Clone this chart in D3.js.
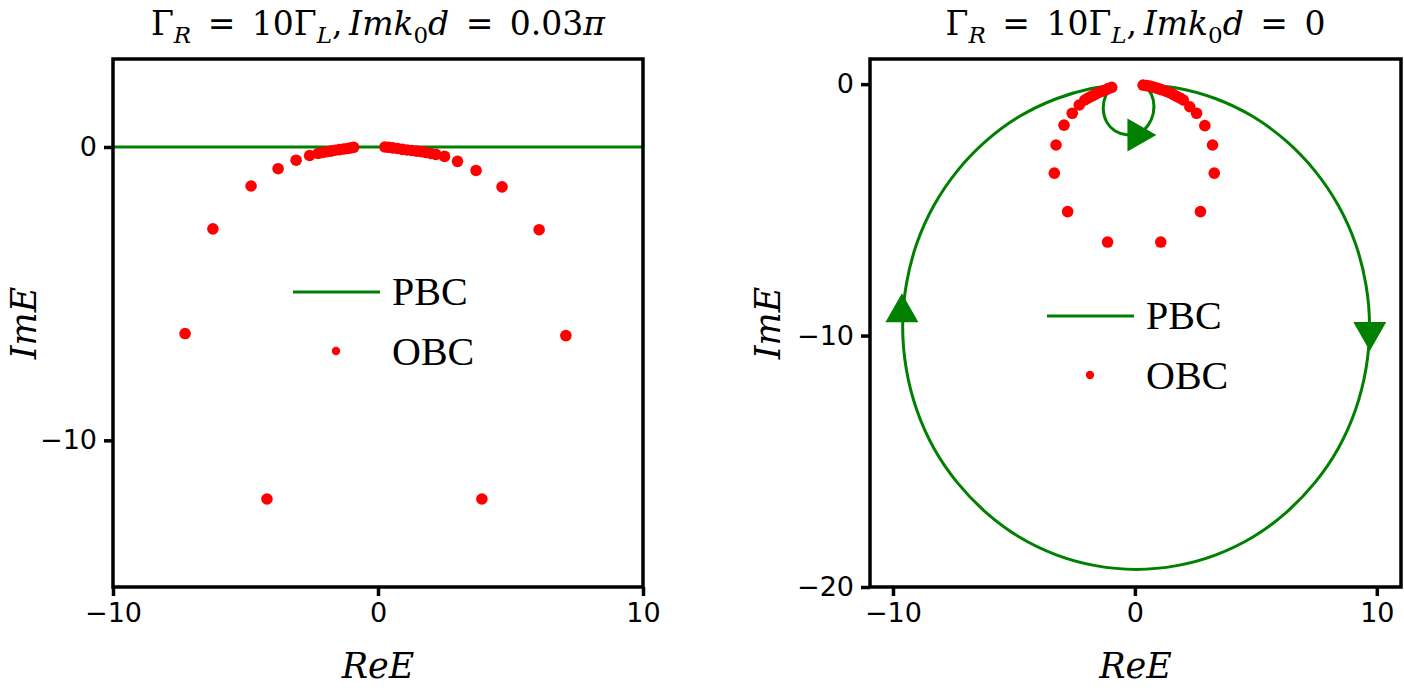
<!DOCTYPE html>
<html>
<head>
<meta charset="utf-8">
<script src="https://cdn.jsdelivr.net/npm/d3@7"></script>
<style>
  body { margin: 0; background: #fff; }
  svg { display: block; }
</style>
</head>
<body>
<script>
'use strict';

// ---- data ----
var xTicks = [-10, 0, 10];
var leftYTicks = [0, -10];
var rightYTicks = [0, -10, -20];

// left panel, Im k0 d = 0.03 pi
var leftPbcRe = [-10, 10];
var leftPbcIm = [0, 0];
var leftObcRe = [-7.28, 7.09, -6.23, 6.08, -4.79, 4.68, -4.19, 3.92,
  -3.77, -3.09, -2.58, -2.26, -2.10, -1.94, -1.78, -1.62, -1.46, -1.30, -1.15, -1.02, -0.92,
  3.70, 3.00, 2.51, 2.18, 2.00, 1.82, 1.64, 1.46, 1.28, 1.10, 0.92, 0.74, 0.56, 0.40, 0.26];
var leftObcIm = [-6.36, -6.43, -2.79, -2.82, -1.33, -1.36, -12.0, -12.0,
  -0.74, -0.45, -0.29, -0.22, -0.19, -0.16, -0.14, -0.11, -0.09, -0.07, -0.05, -0.03, -0.01,
  -0.80, -0.49, -0.32, -0.25, -0.22, -0.19, -0.16, -0.14, -0.12, -0.10, -0.08, -0.05, -0.03, -0.01, 0.0];

// right panel, Im k0 d = 0
var rightObcRe = [3.28, 3.21, 2.89, 2.55, 2.27, 2.00, 1.86, 1.72, 1.58, 1.45, 1.31, 1.17, 1.03, 0.90, 0.76, 0.62, 0.48, 0.34, 2.71, 1.07,
  -3.33, -3.26, -2.93, -2.59, -2.30, -2.07, -1.93, -1.79, -1.65, -1.52, -1.38, -1.24, -1.10, -0.96,
  -2.78, -1.13];
var rightObcIm = [-3.54, -2.42, -1.65, -1.16, -0.90, -0.63, -0.55, -0.48, -0.41, -0.34, -0.29, -0.24, -0.20, -0.16, -0.12, -0.08, -0.06, -0.04, -5.07, -6.28,
  -3.54, -2.42, -1.63, -1.16, -0.83, -0.63, -0.55, -0.48, -0.41, -0.34, -0.29, -0.24, -0.18, -0.13,
  -5.07, -6.28];

// PBC big arc (clockwise, right cusp round to left cusp)
var pbcArcRe = [0.28, 1.73, 3.35, 4.88, 6.25, 7.44, 8.41, 9.12, 9.55, 9.70, 9.55, 9.12, 8.41, 7.44, 6.25, 4.88, 3.35, 1.73, 0.05,
  -1.63, -3.25, -4.78, -6.15, -7.34, -8.31, -9.02, -9.45, -9.60, -9.45, -9.02, -8.31, -7.34, -6.15, -4.78, -3.25, -1.80, -0.92];
var pbcArcIm = [-0.04, -0.15, -0.58, -1.29, -2.26, -3.45, -4.83, -6.35, -7.97, -9.65, -11.33, -12.95, -14.48, -15.85, -17.04, -18.01, -18.72, -19.15, -19.30,
  -19.15, -18.72, -18.01, -17.04, -15.85, -14.48, -12.95, -11.33, -9.65, -7.97, -6.35, -4.83, -3.45, -2.26, -1.29, -0.58, -0.17, -0.06];
// PBC small loop under the gap (left cusp to right cusp)
var pbcLoopRe = [-0.92, -1.20, -1.31, -1.17, -0.83, -0.34, 0.21, 0.55, 0.76, 0.76, 0.55, 0.28];
var pbcLoopIm = [-0.06, -0.44, -0.97, -1.50, -1.85, -2.01, -1.93, -1.63, -1.16, -0.63, -0.21, -0.04];
// arrows along the PBC curve
var arrowRe = [-9.63, 9.71, 0.29];
var arrowIm = [-8.89, -10.04, -2.02];
var arrowDir = [-90, 90, 0];

var width = 1404, height = 690;
var green = '#008000', red = '#ff0000';
var sp = '\u2002';

var svg = d3.select('body').append('svg')
  .attr('width', width)
  .attr('height', height);

function zip(a, b) {
  return a.map(function(v, i) { return [v, b[i]]; });
}

function panel(cfg) {
  var x = d3.scaleLinear().domain(cfg.xDomain).range([cfg.left, cfg.right]);
  var y = d3.scaleLinear().domain(cfg.yDomain).range([cfg.bottom, cfg.top]);

  var g = svg.append('g');

  g.append('clipPath').attr('id', cfg.id)
    .append('rect')
    .attr('x', cfg.left).attr('y', cfg.top)
    .attr('width', cfg.right - cfg.left).attr('height', cfg.bottom - cfg.top);

  var plot = g.append('g').attr('clip-path', 'url(#' + cfg.id + ')');

  var line = d3.line()
    .x(function(d) { return x(d[0]); })
    .y(function(d) { return y(d[1]); })
    .curve(d3.curveCatmullRom.alpha(0.5));

  cfg.lines.forEach(function(pts) {
    plot.append('path')
      .attr('d', line(pts))
      .attr('fill', 'none')
      .attr('stroke', green)
      .attr('stroke-width', 3);
  });

  (cfg.arrows || []).forEach(function(a) {
    var L = 29, W = 33;
    plot.append('path')
      .attr('d', 'M' + (L / 2) + ',0L' + (-L / 2) + ',' + (-W / 2) + 'L' + (-L / 2) + ',' + (W / 2) + 'Z')
      .attr('transform', 'translate(' + x(a[0]) + ',' + y(a[1]) + ') rotate(' + a[2] + ')')
      .attr('fill', green);
  });

  plot.selectAll('circle.obc')
    .data(cfg.dots)
    .enter().append('circle')
    .attr('class', 'obc')
    .attr('cx', function(d) { return x(d[0]); })
    .attr('cy', function(d) { return y(d[1]); })
    .attr('r', 5.8)
    .attr('fill', red);

  // axes
  var xAxis = g.append('g')
    .attr('transform', 'translate(0,' + cfg.bottom + ')')
    .call(d3.axisBottom(x).tickValues(xTicks).tickSize(9).tickPadding(7));
  var yAxis = g.append('g')
    .attr('transform', 'translate(' + cfg.left + ',0)')
    .call(d3.axisLeft(y).tickValues(cfg.yTicks).tickSize(9).tickPadding(7));

  [xAxis, yAxis].forEach(function(ax) {
    ax.select('.domain').remove();
    ax.selectAll('line').attr('stroke', '#000').attr('stroke-width', 3.5);
    ax.selectAll('text')
      .attr('fill', '#000')
      .style('font-family', 'DejaVu Sans')
      .style('font-size', '27px');
  });

  g.append('rect')
    .attr('x', cfg.left).attr('y', cfg.top)
    .attr('width', cfg.right - cfg.left).attr('height', cfg.bottom - cfg.top)
    .attr('fill', 'none')
    .attr('stroke', '#000')
    .attr('stroke-width', 3.5);

  var cx = (cfg.left + cfg.right) / 2, cy = (cfg.top + cfg.bottom) / 2;

  // title
  var t = g.append('text')
    .attr('x', cx).attr('y', 35)
    .attr('text-anchor', 'middle')
    .style('font-family', 'DejaVu Serif')
    .style('font-size', '33px');
  var parts = [
    ['Γ', 0, 'normal'], ['R', 1, 'italic'], [sp + '=' + sp + '10Γ', 0, 'normal'], ['L', 1, 'italic'],
    [',\u2009', 0, 'normal'], ['Imk', 0, 'italic'], ['0', 1, 'normal'], ['d', 0, 'italic'],
    [sp + '=' + sp + cfg.value, 0, 'normal']
  ];
  if (cfg.pi) parts.push(['π', 0, 'italic']);
  var shift = 0;
  parts.forEach(function(p) {
    var dy = (p[1] ? 8 : 0) - shift;
    shift = p[1] ? 8 : 0;
    t.append('tspan')
      .attr('dy', dy)
      .style('font-style', p[2])
      .style('font-size', p[1] ? '23px' : '33px')
      .text(p[0]);
  });

  // axis labels
  g.append('text')
    .attr('x', cx).attr('y', 678)
    .attr('text-anchor', 'middle')
    .style('font-family', 'DejaVu Serif')
    .style('font-style', 'italic')
    .style('font-size', '35px')
    .text('ReE');
  g.append('text')
    .attr('transform', 'translate(' + cfg.yLabelX + ',' + cy + ') rotate(-90)')
    .attr('text-anchor', 'middle')
    .style('font-family', 'DejaVu Serif')
    .style('font-style', 'italic')
    .style('font-size', '35px')
    .text('ImE');

  // legend
  var lg = g.append('g').attr('transform', 'translate(' + cfg.legend[0] + ',' + cfg.legend[1] + ')');
  lg.append('line')
    .attr('x1', 0).attr('x2', 87).attr('y1', 0).attr('y2', 0)
    .attr('stroke', green).attr('stroke-width', 3);
  lg.append('circle').attr('cx', 43).attr('cy', 59).attr('r', 4.2).attr('fill', red);
  [['PBC', 0], ['OBC', 60]].forEach(function(l) {
    lg.append('text')
      .attr('x', 99).attr('y', l[1] + 13)
      .style('font-family', 'Liberation Serif')
      .style('font-size', '40px')
      .text(l[0]);
  });
}

panel({
  id: 'clipL', left: 113, right: 643, top: 59, bottom: 587,
  xDomain: [-10, 10], yDomain: [-15, 3], yTicks: leftYTicks,
  lines: [zip(leftPbcRe, leftPbcIm)],
  dots: zip(leftObcRe, leftObcIm),
  value: '0.03', pi: true,
  yLabelX: 36, legend: [293, 292]
});

panel({
  id: 'clipR', left: 870, right: 1401, top: 59, bottom: 587,
  xDomain: [-10.95, 11.0], yDomain: [-20, 1], yTicks: rightYTicks,
  lines: [zip(pbcArcRe, pbcArcIm), zip(pbcLoopRe, pbcLoopIm)],
  arrows: arrowRe.map(function(v, i) { return [v, arrowIm[i], arrowDir[i]]; }),
  dots: zip(rightObcRe, rightObcIm),
  value: '0', pi: false,
  yLabelX: 780, legend: [1047, 316]
});
</script>
</body>
</html>
